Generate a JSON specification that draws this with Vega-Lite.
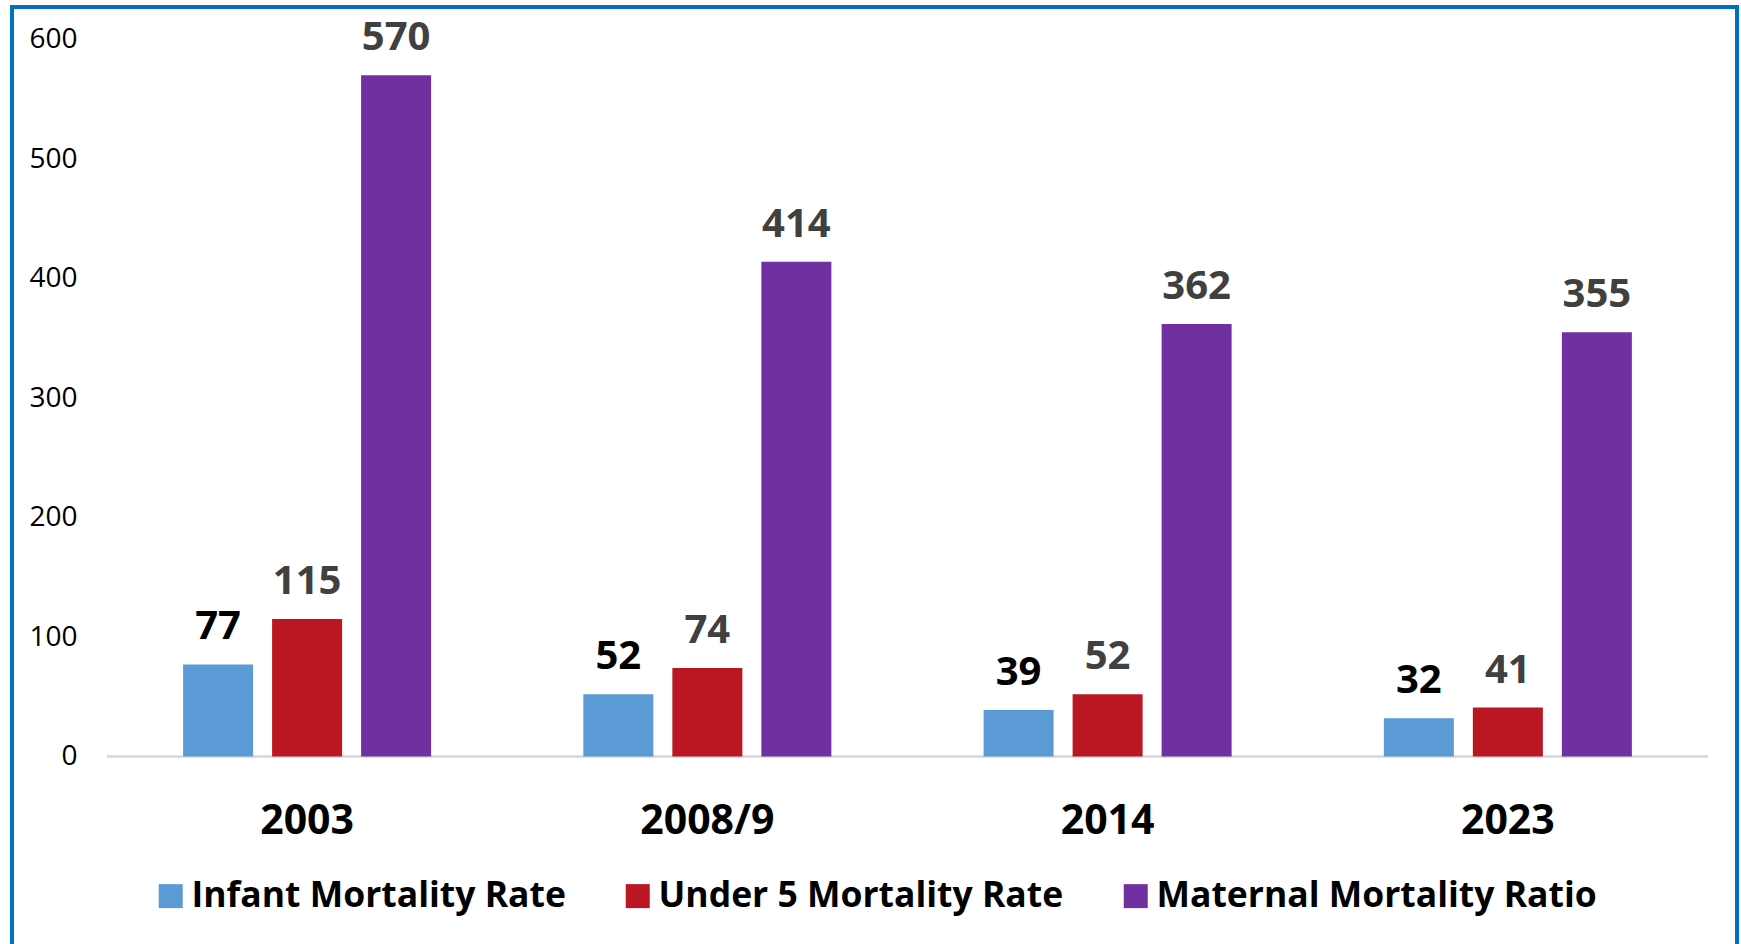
{
  "$schema": "https://vega.github.io/schema/vega-lite/v6.json",
  "width": 1725,
  "height": 941,
  "autosize": {"type": "none"},
  "padding": {"left": 12, "top": 7, "right": 4, "bottom": 0},
  "background": "white",
  "config": {
    "view": {"stroke": "#0070C0", "strokeWidth": 4},
    "font": "Open Sans"
  },
  "data": {
    "values": [
      {"year": "2003", "series": "Infant Mortality Rate", "value": 77},
      {"year": "2003", "series": "Under 5 Mortality Rate", "value": 115},
      {"year": "2003", "series": "Maternal Mortality Ratio", "value": 570},
      {"year": "2008/9", "series": "Infant Mortality Rate", "value": 52},
      {"year": "2008/9", "series": "Under 5 Mortality Rate", "value": 74},
      {"year": "2008/9", "series": "Maternal Mortality Ratio", "value": 414},
      {"year": "2014", "series": "Infant Mortality Rate", "value": 39},
      {"year": "2014", "series": "Under 5 Mortality Rate", "value": 52},
      {"year": "2014", "series": "Maternal Mortality Ratio", "value": 362},
      {"year": "2023", "series": "Infant Mortality Rate", "value": 32},
      {"year": "2023", "series": "Under 5 Mortality Rate", "value": 41},
      {"year": "2023", "series": "Maternal Mortality Ratio", "value": 355}
    ]
  },
  "encoding": {
    "x": {
      "field": "year",
      "type": "nominal",
      "sort": ["2003", "2008/9", "2014", "2023"],
      "scale": {"paddingInner": 0, "paddingOuter": 0.1549, "align": 0.766},
      "axis": {
        "title": null,
        "orient": "bottom",
        "offset": -191.5,
        "domain": false,
        "ticks": false,
        "grid": false,
        "labelAngle": 0,
        "labelBaseline": "middle",
        "labelPadding": 64.5,
        "labelFontSize": 41,
        "labelFontWeight": "bold",
        "labelColor": "#000000"
      }
    }
  },
  "layer": [
    {
      "mark": {"type": "rule", "color": "#D9D9D9", "strokeWidth": 2},
      "encoding": {
        "x": {"field": "year", "type": "nominal", "sort": ["2003", "2008/9", "2014", "2023"], "bandPosition": 0},
        "x2": {"field": "year", "bandPosition": 1},
        "y": {"datum": 0, "type": "quantitative"}
      }
    },
    {
      "mark": {"type": "bar"},
      "encoding": {
        "xOffset": {
          "field": "series",
          "type": "nominal",
          "sort": ["Infant Mortality Rate", "Under 5 Mortality Rate", "Maternal Mortality Ratio"],
          "scale": {"paddingInner": 0.2135, "paddingOuter": 0.855}
        },
        "y": {
          "field": "value",
          "type": "quantitative",
          "scale": {"domain": [-160.25, 627.2], "nice": false, "zero": false},
          "axis": {
            "title": null,
            "values": [0, 100, 200, 300, 400, 500, 600],
            "offset": -95,
            "domain": false,
            "ticks": false,
            "grid": false,
            "labelPadding": 30,
            "labelFontSize": 28,
            "labelColor": "#000000",
            "labelBaseline": "middle"
          }
        },
        "y2": {"datum": 0},
        "color": {
          "field": "series",
          "type": "nominal",
          "sort": ["Infant Mortality Rate", "Under 5 Mortality Rate", "Maternal Mortality Ratio"],
          "scale": {
            "domain": ["Infant Mortality Rate", "Under 5 Mortality Rate", "Maternal Mortality Ratio"],
            "range": ["#5B9BD5", "#BA1722", "#7030A0"]
          },
          "legend": {
            "title": null,
            "orient": "none",
            "legendX": 141,
            "legendY": 871,
            "direction": "horizontal",
            "symbolType": "square",
            "symbolSize": 576,
            "symbolStrokeWidth": 0,
            "labelFontSize": 35.5,
            "labelFontWeight": "bold",
            "labelColor": "#000000",
            "labelOffset": 3,
            "columnPadding": 54,
            "padding": 0,
            "labelLimit": 1000
          }
        }
      }
    },
    {
      "mark": {"type": "text", "baseline": "alphabetic", "dy": -25, "fontSize": 40, "fontWeight": "bold", "align": "center"},
      "encoding": {
        "xOffset": {
          "field": "series",
          "type": "nominal",
          "sort": ["Infant Mortality Rate", "Under 5 Mortality Rate", "Maternal Mortality Ratio"],
          "scale": {"paddingInner": 0.2135, "paddingOuter": 0.855}
        },
        "y": {"field": "value", "type": "quantitative"},
        "text": {"field": "value", "type": "quantitative"},
        "color": {
          "condition": {"test": "datum.series === 'Infant Mortality Rate'", "value": "#000000"},
          "value": "#404040"
        }
      }
    }
  ]
}
